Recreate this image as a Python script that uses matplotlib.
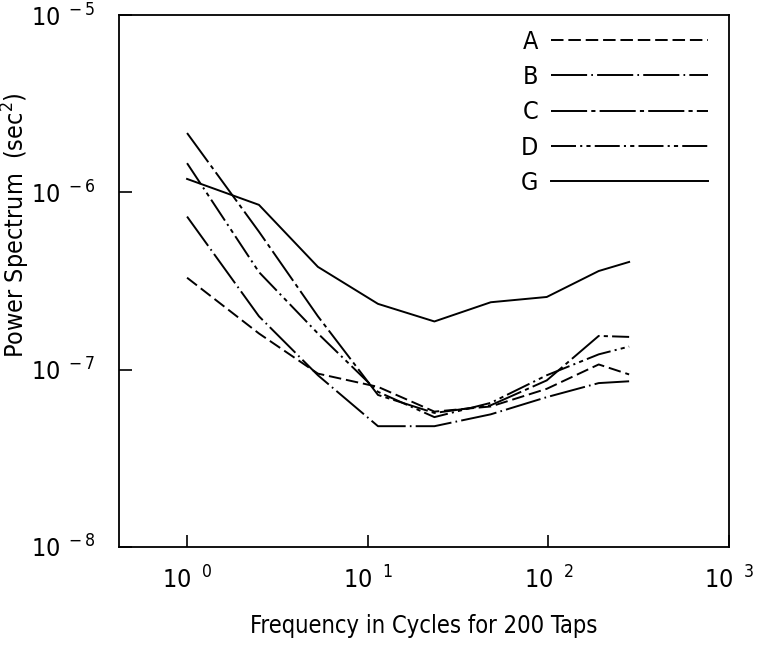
import matplotlib
matplotlib.use("Agg")
import matplotlib.pyplot as plt
from matplotlib.ticker import FixedLocator, NullLocator

plt.rcParams['font.family'] = ['DejaVu Sans']
plt.rcParams['font.stretch'] = 'condensed'
plt.rcParams['lines.scale_dashes'] = False
plt.rcParams['mathtext.default'] = 'regular'

freq = [1, 2.5, 5.3, 11.4, 23.4, 48, 98, 190, 280]
series_A = [3.3e-7, 1.6e-7, 9.5e-8, 8.0e-8, 5.8e-8, 6.2e-8, 7.8e-8, 1.07e-7, 9.4e-8]
series_B = [7.3e-7, 2.0e-7, 9.3e-8, 4.8e-8, 4.8e-8, 5.6e-8, 7.0e-8, 8.4e-8, 8.6e-8]
series_C = [2.16e-6, 6.0e-7, 2.0e-7, 7.2e-8, 5.7e-8, 6.3e-8, 8.7e-8, 1.55e-7, 1.53e-7]
series_D = [1.46e-6, 3.55e-7, 1.6e-7, 7.5e-8, 5.4e-8, 6.5e-8, 9.3e-8, 1.22e-7, 1.35e-7]
series_G = [1.19e-6, 8.5e-7, 3.8e-7, 2.35e-7, 1.87e-7, 2.4e-7, 2.57e-7, 3.6e-7, 4.05e-7]
labels = ["A", "B", "C", "D", "G"]

xticks = [1, 10, 100, 1000]
xticklabels = [r"$10^{\ \ 0}$", r"$10^{\ \ 1}$", r"$10^{\ \ 2}$", r"$10^{\ \ 3}$"]
yticks = [1e-8, 1e-7, 1e-6, 1e-5]
yticklabels = [r"$10^{\ -8}$", r"$10^{\ -7}$", r"$10^{\ -6}$", r"$10^{\ -5}$"]

styles = [
    (0, (9, 3.5)),
    (0, (26, 3, 1.2, 3)),
    (0, (26, 3, 3, 3)),
    (0, (18, 3, 1.5, 3, 3, 3)),
    '-',
]

fig = plt.figure(figsize=(7.6, 6.53), dpi=100)
ax = fig.add_axes([119/760, 1 - 547/653, (729-119)/760, (547-15)/653])

for lab, vals, ls in zip(labels, [series_A, series_B, series_C, series_D, series_G], styles):
    ax.plot(freq, vals, color='black', lw=1.4, linestyle=ls, label=lab)

ax.set_xscale('log')
ax.set_yscale('log')
ax.set_xlim(0.42, 1000)
ax.set_ylim(1e-8, 1e-5)
ax.xaxis.set_major_locator(FixedLocator(xticks))
ax.xaxis.set_minor_locator(NullLocator())
ax.yaxis.set_major_locator(FixedLocator(yticks))
ax.yaxis.set_minor_locator(NullLocator())
ax.set_xticklabels(xticklabels)
ax.set_yticklabels(yticklabels)
ax.tick_params(direction='in', length=9, width=1.2, labelsize=18, pad=14)
ax.tick_params(axis='y', pad=17)
for sp in ax.spines.values():
    sp.set_linewidth(1.3)

ax.set_xlabel("Frequency in Cycles for 200 Taps", fontsize=17)
ax.xaxis.set_label_coords(0.5, -0.125)
ax.set_ylabel("Power Spectrum  (sec$^{2}$)", fontsize=18)
ax.yaxis.set_label_coords(-0.143, 0.605)

leg = ax.legend(loc='upper right', frameon=False, markerfirst=False,
                handlelength=6.3, handletextpad=0.5, labelspacing=0.45,
                fontsize=18, borderaxespad=0, borderpad=0,
                bbox_to_anchor=(0.966, 0.972))

fig.savefig("out.png", dpi=100)
